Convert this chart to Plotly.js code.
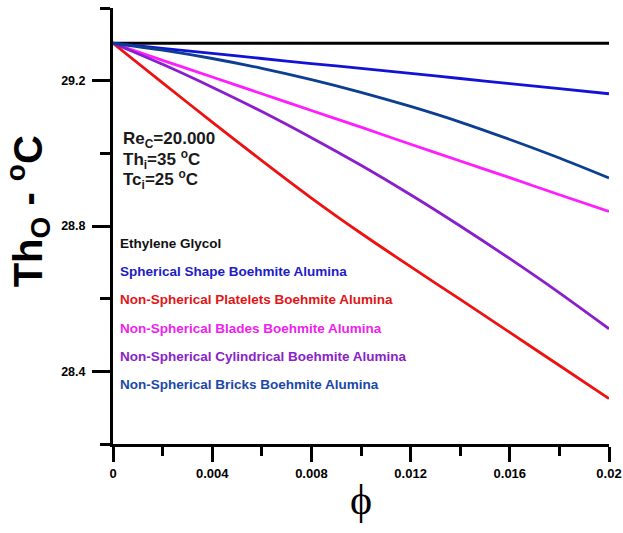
<!DOCTYPE html>
<html>
<head>
<meta charset="utf-8">
<script src="https://cdn.plot.ly/plotly-3.0.1.min.js"></script>
<style>
  html, body { margin: 0; padding: 0; background: #ffffff; }
  #chart { width: 623px; height: 533px; }
</style>
</head>
<body>
<div id="chart"></div>
<script>
// Volume fraction of nanoparticles
const phi = [0, 0.002, 0.004, 0.006, 0.008, 0.010, 0.012, 0.014, 0.016, 0.018, 0.020];

// Hot-side outlet temperature (°C) for each fluid
const thEthyleneGlycol = [29.303, 29.303, 29.303, 29.303, 29.303, 29.303, 29.303, 29.303, 29.303, 29.303, 29.303];
const thSpherical      = [29.303, 29.289, 29.275, 29.261, 29.247, 29.234, 29.220, 29.206, 29.192, 29.178, 29.164];
const thPlatelets      = [29.303, 29.194, 29.086, 28.980, 28.877, 28.780, 28.688, 28.598, 28.507, 28.416, 28.325];
const thBlades         = [29.303, 29.256, 29.210, 29.164, 29.118, 29.072, 29.025, 28.979, 28.933, 28.886, 28.840];
const thCylindrical    = [29.303, 29.245, 29.182, 29.115, 29.043, 28.967, 28.886, 28.800, 28.710, 28.616, 28.517];
const thBricks         = [29.303, 29.284, 29.261, 29.234, 29.203, 29.168, 29.129, 29.086, 29.038, 28.987, 28.932];

const seriesNames = [
  'Ethylene Glycol',
  'Spherical Shape Boehmite Alumina',
  'Non-Spherical Platelets Boehmite Alumina',
  'Non-Spherical Blades Boehmite Alumina',
  'Non-Spherical Cylindrical Boehmite Alumina',
  'Non-Spherical Bricks Boehmite Alumina'
];
const seriesValues = [thEthyleneGlycol, thSpherical, thPlatelets, thBlades, thCylindrical, thBricks];

// Axis tick values
const xTickVals = [0, 0.004, 0.008, 0.012, 0.016, 0.02];
const xTickText = ['0', '0.004', '0.008', '0.012', '0.016', '0.02'];
const yTickVals = [28.4, 28.8, 29.2];
const yTickText = ['28.4', '28.8', '29.2'];

// Operating conditions
const conditions = [
  'Re<sub>C</sub>=20.000',
  'Th<sub>i</sub>=35 <sup>o</sup>C',
  'Tc<sub>i</sub>=25 <sup>o</sup>C'
];

const lineColors = ['#000000', '#1212d6', '#ee1111', '#ff1cff', '#8a1ecc', '#0c3e92'];
const textColors = ['#111111', '#1c1cc8', '#e01616', '#ee22ee', '#8a22c8', '#1a48a8'];
const lineWidths = [3, 2.8, 2.8, 2.8, 2.8, 2.8];

const traces = seriesNames.map((name, i) => ({
  type: 'scatter',
  mode: 'lines',
  name: name,
  x: phi,
  y: seriesValues[i],
  line: { color: lineColors[i], width: lineWidths[i], shape: 'spline', smoothing: 0.8 },
  hoverinfo: 'x+y+name'
}));

const sans = 'Liberation Sans, Arial, sans-serif';

// Series labels stacked inside the plot area
const nameNotes = seriesNames.map((name, i) => ({
  xref: 'paper', yref: 'paper',
  x: 0.010, y: 0.461 - i * 0.0651,
  xanchor: 'left', yanchor: 'middle',
  text: name,
  showarrow: false,
  font: { family: sans, size: 13.5, color: textColors[i], weight: 'bold' }
}));

const conditionNotes = conditions.map((t, i) => ({
  xref: 'paper', yref: 'paper',
  x: 0.016, y: 0.697 - i * 0.045,
  xanchor: 'left', yanchor: 'middle',
  text: t,
  showarrow: false,
  font: { family: sans, size: 17, color: '#1a1a1a', weight: 'bold' }
}));

const yTitleNote = {
  xref: 'paper', yref: 'paper',
  x: -0.171, y: 0.534,
  xanchor: 'center', yanchor: 'middle',
  textangle: -90,
  text: 'Th<sub>O</sub> - <sup>o</sup>C',
  showarrow: false,
  font: { family: sans, size: 40, color: '#000000', weight: 'bold' }
};

const layout = {
  width: 623,
  height: 533,
  margin: { l: 113, r: 14, t: 8, b: 89 },
  paper_bgcolor: '#ffffff',
  plot_bgcolor: '#ffffff',
  showlegend: false,
  xaxis: {
    range: [0, 0.02],
    showgrid: false,
    zeroline: false,
    showline: true,
    linecolor: '#000000',
    linewidth: 3,
    ticks: 'outside',
    ticklen: 15,
    tickwidth: 3,
    tickcolor: '#000000',
    tickvals: xTickVals,
    ticktext: xTickText,
    tickfont: { family: sans, size: 13, color: '#000000', weight: 'bold' },
    minor: { dtick: 0.002, tick0: 0, ticks: 'outside', ticklen: 9, tickwidth: 3, tickcolor: '#000000', showgrid: false },
    title: { text: 'ϕ', font: { family: 'Liberation Serif, Times New Roman, serif', size: 42, color: '#000000' }, standoff: 6 }
  },
  yaxis: {
    range: [28.2, 29.4],
    showgrid: false,
    zeroline: false,
    showline: true,
    linecolor: '#000000',
    linewidth: 3,
    ticks: 'outside',
    ticklen: 18,
    tickwidth: 3,
    tickcolor: '#000000',
    tickvals: yTickVals,
    ticktext: yTickText,
    ticklabelstandoff: 4,
    tickfont: { family: sans, size: 12.5, color: '#000000', weight: 'bold' },
    minor: { dtick: 0.2, tick0: 28.2, ticks: 'outside', ticklen: 10, tickwidth: 3, tickcolor: '#000000', showgrid: false }
  },
  annotations: nameNotes.concat(conditionNotes, [yTitleNote])
};

Plotly.newPlot('chart', traces, layout, { staticPlot: true, displayModeBar: false });
</script>
</body>
</html>
